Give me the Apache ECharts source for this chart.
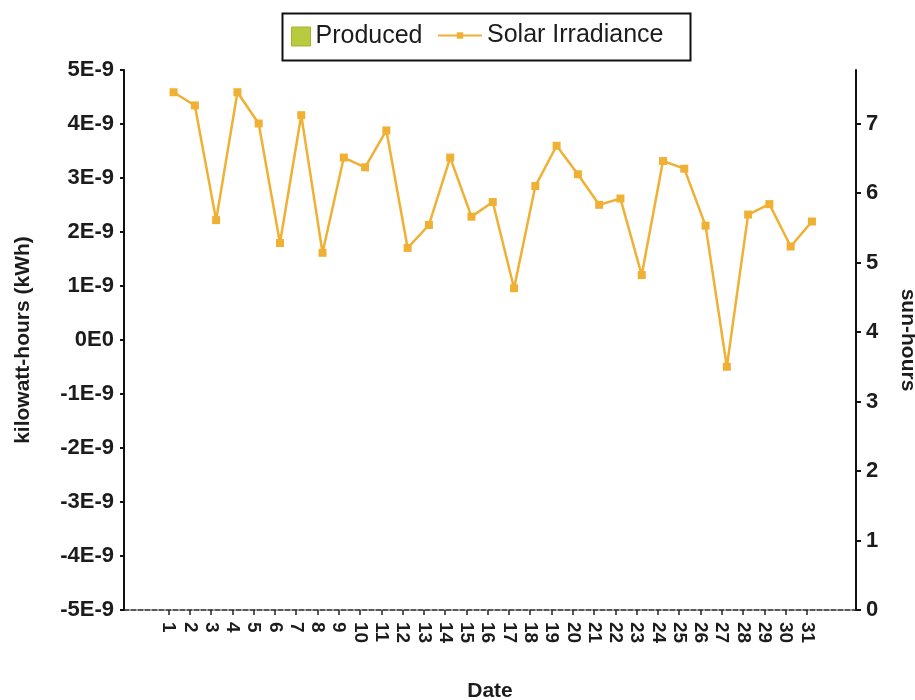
<!DOCTYPE html>
<html>
<head>
<meta charset="utf-8">
<title>Produced vs Solar Irradiance</title>
<script src="https://cdn.jsdelivr.net/npm/echarts@6/dist/echarts.min.js"></script>
<style>
  html, body { margin: 0; padding: 0; background: #fff; }
  #chart { width: 915px; height: 700px; }
</style>
</head>
<body>
<div id="chart"></div>
<script>
// Day of month (labels along the bottom axis)
const days = [1, 2, 3, 4, 5, 6, 7, 8, 9, 10, 11, 12, 13, 14, 15, 16,
              17, 18, 19, 20, 21, 22, 23, 24, 25, 26, 27, 28, 29, 30, 31];

// Energy produced each day (kWh) - nothing was recorded this month
const producedKWh = [0, 0, 0, 0, 0, 0, 0, 0, 0, 0, 0, 0, 0, 0, 0, 0,
                     0, 0, 0, 0, 0, 0, 0, 0, 0, 0, 0, 0, 0, 0, 0];

// Solar irradiance each day (sun-hours)
const sunHours = [7.45, 7.26, 5.61, 7.45, 7.00, 5.28, 7.12, 5.14, 6.51, 6.37,
                  6.90, 5.21, 5.54, 6.51, 5.66, 5.87, 4.63, 6.10, 6.68, 6.27,
                  5.83, 5.92, 4.82, 6.46, 6.35, 5.53, 3.50, 5.69, 5.84, 5.23, 5.59];

// Left axis ticks (kWh) and their printed labels
const kwhTickValues = [-5e-9, -4e-9, -3e-9, -2e-9, -1e-9, 0, 1e-9, 2e-9, 3e-9, 4e-9, 5e-9];
const kwhTickLabels = ['-5E-9', '-4E-9', '-3E-9', '-2E-9', '-1E-9', '0E0',
                       '1E-9', '2E-9', '3E-9', '4E-9', '5E-9'];

// Right axis ticks (sun-hours)
const sunTickValues = [0, 1, 2, 3, 4, 5, 6, 7];

const FONT = 'Liberation Sans, Arial, sans-serif';
const INK = '#1c1c1c';
const LINE_COLOR = '#f0b034';
const BAR_COLOR = '#b9ca3e';

const chart = echarts.init(document.getElementById('chart'), null, { renderer: 'canvas' });

const producedData = days.map((d, i) => [d, producedKWh[i]]);
const sunData = days.map((d, i) => [d, sunHours[i]]);

const option = {
  backgroundColor: '#ffffff',
  animation: false,
  textStyle: { fontFamily: FONT, color: INK },
  grid: { left: 124, right: 59, top: 70, bottom: 90,
          containLabel: false, outerBoundsMode: 'none' },
  graphic: [{
    type: 'rect',
    left: 280, top: 11,
    shape: { width: 408, height: 47 },
    style: { fill: 'none', stroke: '#111', lineWidth: 2 },
    z: 100
  }],
  legend: [{
    data: [{ name: 'Produced', icon: 'rect' }],
    left: 291, top: 24,
    itemWidth: 19, itemHeight: 19, itemGap: 10,
    padding: 0,
    textStyle: { fontFamily: FONT, fontSize: 25, color: INK },
    itemStyle: { color: BAR_COLOR, borderColor: '#a3b52c', borderWidth: 1 }
  }, {
    data: ['Solar Irradiance'],
    left: 437, top: 23,
    itemWidth: 44, itemHeight: 8,
    padding: 0,
    textStyle: { fontFamily: FONT, fontSize: 25, color: INK }
  }],
  xAxis: [{
    // scale the data is plotted against
    type: 'value',
    min: -1.33, max: 33.07,
    show: false
  }, {
    // axis carrying the day ticks and labels
    type: 'value',
    position: 'bottom',
    min: -1.09, max: 33.31,
    name: 'Date',
    nameLocation: 'middle',
    nameGap: 71,
    nameTextStyle: { fontFamily: FONT, fontSize: 21, fontWeight: 'bold', color: INK },
    axisLine: { show: true, onZero: false, lineStyle: { color: '#222', width: 1.5, type: [5, 2] } },
    axisTick: { show: true, inside: false, length: 5, customValues: days,
                lineStyle: { color: '#222', width: 1.5 } },
    axisLabel: {
      customValues: days,
      rotate: -90,
      margin: 12,
      fontFamily: FONT, fontSize: 19, fontWeight: 'bold', color: INK,
      formatter: v => String(v)
    },
    splitLine: { show: false }
  }],
  yAxis: [{
    type: 'value',
    position: 'left',
    min: -5e-9, max: 5e-9,
    name: 'kilowatt-hours (kWh)',
    nameLocation: 'middle',
    nameGap: 90,
    nameRotate: 90,
    nameTextStyle: { fontFamily: FONT, fontSize: 21, fontWeight: 'bold', color: INK },
    axisLine: { show: true, onZero: false, lineStyle: { color: '#111', width: 2 } },
    axisTick: { show: true, length: 4, customValues: kwhTickValues,
                lineStyle: { color: '#111', width: 2 } },
    axisLabel: {
      customValues: kwhTickValues,
      margin: 10,
      fontFamily: FONT, fontSize: 22, fontWeight: 'bold', color: INK,
      formatter: v => {
        const idx = kwhTickValues.findIndex(t => Math.abs(t - v) < 1e-12);
        return idx >= 0 ? kwhTickLabels[idx] : '';
      }
    },
    splitLine: { show: false }
  }, {
    type: 'value',
    position: 'right',
    min: 0, max: 7.77,
    name: 'sun-hours',
    nameLocation: 'middle',
    nameGap: 41,
    nameRotate: -90,
    nameTextStyle: { fontFamily: FONT, fontSize: 21, fontWeight: 'bold', color: INK },
    axisLine: { show: true, onZero: false, lineStyle: { color: '#111', width: 2 } },
    axisTick: { show: true, length: 5, customValues: sunTickValues,
                lineStyle: { color: '#111', width: 2 } },
    axisLabel: {
      customValues: sunTickValues,
      margin: 10,
      fontFamily: FONT, fontSize: 22, fontWeight: 'bold', color: INK,
      formatter: v => String(v)
    },
    splitLine: { show: false }
  }],
  series: [{
    name: 'Produced',
    type: 'bar',
    xAxisIndex: 0,
    yAxisIndex: 0,
    barWidth: 12,
    itemStyle: { color: BAR_COLOR },
    data: producedData
  }, {
    name: 'Solar Irradiance',
    type: 'line',
    xAxisIndex: 0,
    yAxisIndex: 1,
    symbol: 'rect',
    symbolSize: 8,
    itemStyle: { color: LINE_COLOR },
    lineStyle: { color: LINE_COLOR, width: 2.5 },
    data: sunData
  }]
};

chart.setOption(option);
</script>
</body>
</html>
